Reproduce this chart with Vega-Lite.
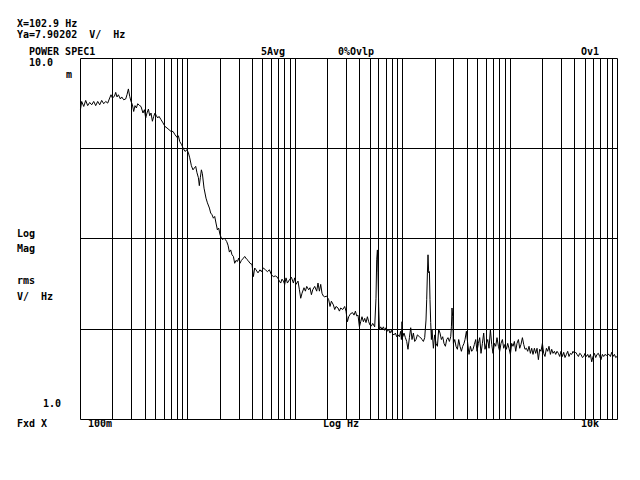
{
  "$schema": "https://vega.github.io/schema/vega-lite/v6.json",
  "width": 537,
  "height": 361,
  "autosize": {"type": "none"},
  "padding": {"left": 80, "top": 58, "right": 23, "bottom": 61},
  "background": "white",
  "config": {
    "view": {"stroke": null},
    "mark": {"color": "black"},
    "axis": {"labels": false, "ticks": false, "domain": false, "title": null, "grid": true, "gridColor": "black", "gridOpacity": 1, "gridWidth": 1},
    "text": {"font": "DejaVu Sans Mono", "fontWeight": "bold", "fontSize": 10, "color": "black", "fill": "black", "align": "left", "baseline": "alphabetic"}
  },
  "layer": [
    {
      "data": {"values": [
        {"freq":0.1009,"mag":7.19},{"freq":0.1037,"mag":7.58},{"freq":0.1083,"mag":7.34},{"freq":0.1130,"mag":7.63},{"freq":0.1179,"mag":7.38},{"freq":0.1231,"mag":7.53},{"freq":0.1285,"mag":7.42},{"freq":0.1342,"mag":7.58},{"freq":0.1400,"mag":7.38},{"freq":0.1462,"mag":7.58},{"freq":0.1526,"mag":7.42},{"freq":0.1592,"mag":7.63},{"freq":0.1662,"mag":7.47},{"freq":0.1735,"mag":7.58},{"freq":0.1811,"mag":7.50},{"freq":0.1890,"mag":7.75},{"freq":0.1944,"mag":7.91},{"freq":0.2003,"mag":7.75},{"freq":0.2091,"mag":7.83},{"freq":0.2150,"mag":8.03},{"freq":0.2211,"mag":7.80},{"freq":0.2278,"mag":7.91},{"freq":0.2378,"mag":7.70},{"freq":0.2445,"mag":7.80},{"freq":0.2552,"mag":7.66},{"freq":0.2664,"mag":7.70},{"freq":0.2739,"mag":7.91},{"freq":0.2823,"mag":8.21},{"freq":0.2903,"mag":7.83},{"freq":0.2985,"mag":7.58},{"freq":0.3076,"mag":7.42},{"freq":0.3162,"mag":7.11},{"freq":0.3252,"mag":7.38},{"freq":0.3351,"mag":7.27},{"freq":0.3445,"mag":7.47},{"freq":0.3596,"mag":7.38},{"freq":0.3698,"mag":7.34},{"freq":0.3860,"mag":7.04},{"freq":0.3978,"mag":7.19},{"freq":0.4090,"mag":6.82},{"freq":0.4206,"mag":7.04},{"freq":0.4335,"mag":7.22},{"freq":0.4457,"mag":6.92},{"freq":0.4583,"mag":7.04},{"freq":0.4722,"mag":6.68},{"freq":0.4856,"mag":6.89},{"freq":0.4993,"mag":7.04},{"freq":0.5145,"mag":6.92},{"freq":0.5290,"mag":6.82},{"freq":0.5440,"mag":6.89},{"freq":0.5678,"mag":6.75},{"freq":0.5928,"mag":6.61},{"freq":0.6188,"mag":6.46},{"freq":0.6458,"mag":6.40},{"freq":0.6742,"mag":6.33},{"freq":0.7037,"mag":6.26},{"freq":0.7345,"mag":6.26},{"freq":0.7666,"mag":6.13},{"freq":0.8002,"mag":6.03},{"freq":0.8246,"mag":6.09},{"freq":0.8479,"mag":5.87},{"freq":0.8849,"mag":5.75},{"freq":0.9100,"mag":5.63},{"freq":0.9499,"mag":5.51},{"freq":0.9915,"mag":5.57},
        {"freq":1.022,"mag":5.46},{"freq":1.051,"mag":5.29},{"freq":1.089,"mag":5.03},{"freq":1.127,"mag":4.90},{"freq":1.162,"mag":4.96},{"freq":1.195,"mag":5.01},{"freq":1.228,"mag":4.81},{"freq":1.266,"mag":4.66},{"freq":1.291,"mag":4.43},{"freq":1.319,"mag":4.66},{"freq":1.350,"mag":4.90},{"freq":1.379,"mag":4.78},{"freq":1.428,"mag":4.36},{"freq":1.490,"mag":4.09},{"freq":1.536,"mag":3.97},{"freq":1.603,"mag":3.84},{"freq":1.648,"mag":3.72},{"freq":1.695,"mag":3.68},{"freq":1.746,"mag":3.60},{"freq":1.796,"mag":3.64},{"freq":1.846,"mag":3.49},{"freq":1.903,"mag":3.34},{"freq":1.956,"mag":3.38},{"freq":2.012,"mag":3.24},{"freq":2.073,"mag":3.17},{"freq":2.131,"mag":3.14},{"freq":2.192,"mag":3.17},{"freq":2.259,"mag":3.14},{"freq":2.323,"mag":3.10},{"freq":2.388,"mag":3.03},{"freq":2.461,"mag":2.90},{"freq":2.530,"mag":2.94},{"freq":2.602,"mag":2.85},{"freq":2.681,"mag":2.82},{"freq":2.757,"mag":2.70},{"freq":2.835,"mag":2.75},{"freq":2.922,"mag":2.73},{"freq":3.004,"mag":2.79},{"freq":3.089,"mag":2.70},{"freq":3.183,"mag":2.75},{"freq":3.323,"mag":2.79},{"freq":3.417,"mag":2.82},{"freq":3.566,"mag":2.77},{"freq":3.667,"mag":2.75},{"freq":3.827,"mag":2.70},{"freq":3.995,"mag":2.68},{"freq":4.117,"mag":2.48},{"freq":4.233,"mag":2.62},{"freq":4.352,"mag":2.59},{"freq":4.543,"mag":2.54},{"freq":4.742,"mag":2.59},{"freq":4.887,"mag":2.56},{"freq":5.101,"mag":2.62},{"freq":5.325,"mag":2.59},{"freq":5.558,"mag":2.56},{"freq":5.801,"mag":2.59},{"freq":6.054,"mag":2.51},{"freq":6.321,"mag":2.48},{"freq":6.597,"mag":2.49},{"freq":6.887,"mag":2.47},{"freq":7.188,"mag":2.41},{"freq":7.391,"mag":2.38},{"freq":7.600,"mag":2.44},{"freq":7.832,"mag":2.41},{"freq":8.053,"mag":2.36},{"freq":8.281,"mag":2.46},{"freq":8.534,"mag":2.38},{"freq":8.906,"mag":2.43},{"freq":9.297,"mag":2.47},{"freq":9.705,"mag":2.38},{"freq":9.979,"mag":2.46},
        {"freq":10.26,"mag":2.36},{"freq":10.71,"mag":2.41},{"freq":11.04,"mag":2.28},{"freq":11.35,"mag":2.16},{"freq":11.67,"mag":2.23},{"freq":12.18,"mag":2.31},{"freq":12.55,"mag":2.26},{"freq":12.91,"mag":2.33},{"freq":13.47,"mag":2.28},{"freq":13.85,"mag":2.31},{"freq":14.28,"mag":2.21},{"freq":14.68,"mag":2.28},{"freq":15.32,"mag":2.33},{"freq":15.99,"mag":2.26},{"freq":16.44,"mag":2.38},{"freq":16.95,"mag":2.26},{"freq":17.43,"mag":2.36},{"freq":17.92,"mag":2.23},{"freq":18.46,"mag":2.19},{"freq":18.98,"mag":2.18},{"freq":19.82,"mag":2.19},{"freq":20.69,"mag":2.14},{"freq":21.27,"mag":2.05},{"freq":21.92,"mag":2.12},{"freq":22.88,"mag":2.07},{"freq":23.53,"mag":2.01},{"freq":24.19,"mag":2.05},{"freq":25.25,"mag":2.03},{"freq":26.02,"mag":1.99},{"freq":26.75,"mag":2.03},{"freq":27.93,"mag":2.01},{"freq":29.15,"mag":2.05},{"freq":29.98,"mag":1.99},{"freq":30.89,"mag":1.86},{"freq":31.76,"mag":1.92},{"freq":33.15,"mag":1.96},{"freq":34.60,"mag":1.97},{"freq":35.58,"mag":1.94},{"freq":36.67,"mag":1.99},{"freq":37.71,"mag":1.93},{"freq":38.77,"mag":1.94},{"freq":39.95,"mag":1.80},{"freq":41.08,"mag":1.86},{"freq":42.24,"mag":1.92},{"freq":43.52,"mag":1.86},{"freq":44.75,"mag":1.90},{"freq":46.01,"mag":1.85},{"freq":47.42,"mag":1.92},{"freq":48.76,"mag":1.86},{"freq":50.14,"mag":1.82},{"freq":51.66,"mag":1.81},{"freq":53.12,"mag":1.84},{"freq":55.45,"mag":1.80},{"freq":57.02,"mag":2.16},{"freq":57.88,"mag":2.76},{"freq":58.76,"mag":2.94},{"freq":59.52,"mag":2.54},{"freq":60.42,"mag":2.05},{"freq":61.33,"mag":1.77},{"freq":63.07,"mag":1.80},{"freq":64.85,"mag":1.77},{"freq":66.83,"mag":1.80},{"freq":68.72,"mag":1.76},{"freq":70.66,"mag":1.79},{"freq":72.81,"mag":1.75},{"freq":74.87,"mag":1.77},{"freq":76.98,"mag":1.73},{"freq":79.33,"mag":1.76},{"freq":81.57,"mag":1.72},{"freq":83.87,"mag":1.71},{"freq":86.44,"mag":1.73},{"freq":88.87,"mag":1.69},{"freq":91.40,"mag":1.71},{"freq":94.17,"mag":1.69},{"freq":96.83,"mag":1.75},{"freq":98.31,"mag":1.66},{"freq":99.56,"mag":1.86},
        {"freq":101.1,"mag":1.69},{"freq":103.9,"mag":1.73},{"freq":107.1,"mag":1.68},{"freq":110.1,"mag":1.64},{"freq":113.2,"mag":1.56},{"freq":116.7,"mag":1.68},{"freq":120.0,"mag":1.79},{"freq":123.4,"mag":1.66},{"freq":127.1,"mag":1.73},{"freq":130.7,"mag":1.64},{"freq":134.4,"mag":1.66},{"freq":138.5,"mag":1.71},{"freq":144.6,"mag":1.69},{"freq":148.7,"mag":1.68},{"freq":152.9,"mag":1.66},{"freq":157.5,"mag":1.64},{"freq":162.0,"mag":1.68},{"freq":166.6,"mag":1.88},{"freq":169.1,"mag":2.14},{"freq":171.7,"mag":2.54},{"freq":173.9,"mag":2.85},{"freq":176.5,"mag":2.54},{"freq":179.2,"mag":2.56},{"freq":181.5,"mag":2.14},{"freq":184.2,"mag":1.85},{"freq":187.0,"mag":1.66},{"freq":189.4,"mag":1.77},{"freq":195.2,"mag":1.57},{"freq":200.7,"mag":1.71},{"freq":206.4,"mag":1.62},{"freq":212.7,"mag":1.59},{"freq":218.7,"mag":1.77},{"freq":224.9,"mag":1.73},{"freq":231.7,"mag":1.66},{"freq":238.3,"mag":1.69},{"freq":245.0,"mag":1.62},{"freq":252.5,"mag":1.59},{"freq":259.6,"mag":1.66},{"freq":266.9,"mag":1.68},{"freq":275.1,"mag":1.64},{"freq":282.9,"mag":1.69},{"freq":287.2,"mag":1.80},{"freq":290.9,"mag":2.03},{"freq":295.3,"mag":1.92},{"freq":299.8,"mag":1.62},{"freq":308.3,"mag":1.66},{"freq":316.9,"mag":1.59},{"freq":326.6,"mag":1.56},{"freq":335.8,"mag":1.66},{"freq":345.3,"mag":1.59},{"freq":355.8,"mag":1.54},{"freq":365.9,"mag":1.59},{"freq":376.2,"mag":1.62},{"freq":384.4,"mag":1.66},{"freq":396.1,"mag":1.75},{"freq":407.3,"mag":1.62},{"freq":418.8,"mag":1.51},{"freq":431.5,"mag":1.59},{"freq":443.7,"mag":1.54},{"freq":456.3,"mag":1.56},{"freq":470.2,"mag":1.61},{"freq":483.5,"mag":1.66},{"freq":497.2,"mag":1.54},{"freq":512.3,"mag":1.62},{"freq":526.8,"mag":1.68},{"freq":541.7,"mag":1.52},{"freq":558.1,"mag":1.62},{"freq":573.9,"mag":1.73},{"freq":590.1,"mag":1.56},{"freq":608.1,"mag":1.62},{"freq":625.3,"mag":1.66},{"freq":643.0,"mag":1.57},{"freq":662.6,"mag":1.77},{"freq":681.3,"mag":1.61},{"freq":700.6,"mag":1.52},{"freq":722.0,"mag":1.62},{"freq":742.4,"mag":1.59},{"freq":763.4,"mag":1.68},{"freq":786.6,"mag":1.59},{"freq":808.8,"mag":1.54},{"freq":831.7,"mag":1.62},{"freq":857.1,"mag":1.66},{"freq":881.3,"mag":1.57},{"freq":906.2,"mag":1.61},{"freq":933.7,"mag":1.56},{"freq":960.1,"mag":1.62},{"freq":987.2,"mag":1.57},
        {"freq":1017,"mag":1.51},{"freq":1046,"mag":1.62},{"freq":1076,"mag":1.59},{"freq":1108,"mag":1.64},{"freq":1140,"mag":1.54},{"freq":1172,"mag":1.62},{"freq":1208,"mag":1.66},{"freq":1242,"mag":1.57},{"freq":1277,"mag":1.61},{"freq":1316,"mag":1.68},{"freq":1353,"mag":1.61},{"freq":1391,"mag":1.56},{"freq":1434,"mag":1.57},{"freq":1474,"mag":1.54},{"freq":1516,"mag":1.59},{"freq":1562,"mag":1.52},{"freq":1606,"mag":1.57},{"freq":1652,"mag":1.51},{"freq":1702,"mag":1.57},{"freq":1750,"mag":1.52},{"freq":1800,"mag":1.57},{"freq":1854,"mag":1.46},{"freq":1906,"mag":1.56},{"freq":1960,"mag":1.54},{"freq":2020,"mag":1.62},{"freq":2077,"mag":1.52},{"freq":2136,"mag":1.49},{"freq":2201,"mag":1.57},{"freq":2263,"mag":1.54},{"freq":2327,"mag":1.59},{"freq":2399,"mag":1.51},{"freq":2466,"mag":1.56},{"freq":2536,"mag":1.52},{"freq":2613,"mag":1.54},{"freq":2687,"mag":1.51},{"freq":2763,"mag":1.54},{"freq":2847,"mag":1.52},{"freq":2928,"mag":1.49},{"freq":3010,"mag":1.54},{"freq":3102,"mag":1.49},{"freq":3189,"mag":1.53},{"freq":3279,"mag":1.48},{"freq":3380,"mag":1.51},{"freq":3475,"mag":1.54},{"freq":3573,"mag":1.49},{"freq":3683,"mag":1.52},{"freq":3787,"mag":1.51},{"freq":3894,"mag":1.54},{"freq":4013,"mag":1.52},{"freq":4126,"mag":1.53},{"freq":4243,"mag":1.51},{"freq":4372,"mag":1.49},{"freq":4496,"mag":1.52},{"freq":4622,"mag":1.51},{"freq":4763,"mag":1.48},{"freq":4897,"mag":1.49},{"freq":5035,"mag":1.52},{"freq":5190,"mag":1.49},{"freq":5336,"mag":1.51},{"freq":5487,"mag":1.48},{"freq":5654,"mag":1.51},{"freq":5814,"mag":1.44},{"freq":5978,"mag":1.49},{"freq":6161,"mag":1.52},{"freq":6335,"mag":1.48},{"freq":6514,"mag":1.51},{"freq":6712,"mag":1.52},{"freq":6902,"mag":1.49},{"freq":7096,"mag":1.46},{"freq":7313,"mag":1.51},{"freq":7519,"mag":1.49},{"freq":7731,"mag":1.51},{"freq":7966,"mag":1.50},{"freq":8191,"mag":1.51},{"freq":8422,"mag":1.51},{"freq":8679,"mag":1.49},{"freq":8925,"mag":1.53},{"freq":9180,"mag":1.49},{"freq":9458,"mag":1.51},{"freq":9725,"mag":1.48},{"freq":10000,"mag":1.49}
      ]},
      "mark": {"type": "line", "color": "black", "strokeWidth": 1},
      "encoding": {
        "x": {"field": "freq", "type": "quantitative",
              "scale": {"type": "log", "domain": [0.1, 10000], "nice": false},
              "axis": {"values": [0.1,0.2,0.3,0.4,0.5,0.6,0.7,0.8,0.9,1,2,3,4,5,6,7,8,9,10,20,30,40,50,60,70,80,90,100,200,300,400,500,600,700,800,900,1000,2000,3000,4000,5000,6000,7000,8000,9000,10000]}},
        "y": {"field": "mag", "type": "quantitative",
              "scale": {"type": "log", "domain": [1, 10], "nice": false, "zero": false},
              "axis": {"values": [1, 1.7783, 3.1623, 5.6234, 10]}}
      }
    },
    {"data": {"values": [{}]}, "mark": {"type": "text", "text": "X=102.9 Hz", "dx": -63, "dy": -31},
     "encoding": {"x": {"datum": 0.1, "type": "quantitative"}, "y": {"datum": 10, "type": "quantitative"}}},
    {"data": {"values": [{}]}, "mark": {"type": "text", "text": "Ya=7.90202\u00a0\u00a0V/\u00a0\u00a0Hz", "dx": -63, "dy": -20},
     "encoding": {"x": {"datum": 0.1, "type": "quantitative"}, "y": {"datum": 10, "type": "quantitative"}}},
    {"data": {"values": [{}]}, "mark": {"type": "text", "text": "POWER SPEC1", "dx": -51, "dy": -3},
     "encoding": {"x": {"datum": 0.1, "type": "quantitative"}, "y": {"datum": 10, "type": "quantitative"}}},
    {"data": {"values": [{}]}, "mark": {"type": "text", "text": "5Avg", "dx": 181, "dy": -3},
     "encoding": {"x": {"datum": 0.1, "type": "quantitative"}, "y": {"datum": 10, "type": "quantitative"}}},
    {"data": {"values": [{}]}, "mark": {"type": "text", "text": "0%Ovlp", "dx": 258, "dy": -3},
     "encoding": {"x": {"datum": 0.1, "type": "quantitative"}, "y": {"datum": 10, "type": "quantitative"}}},
    {"data": {"values": [{}]}, "mark": {"type": "text", "text": "Ov1", "dx": 501, "dy": -3},
     "encoding": {"x": {"datum": 0.1, "type": "quantitative"}, "y": {"datum": 10, "type": "quantitative"}}},
    {"data": {"values": [{}]}, "mark": {"type": "text", "text": "10.0", "dx": -51, "dy": 8},
     "encoding": {"x": {"datum": 0.1, "type": "quantitative"}, "y": {"datum": 10, "type": "quantitative"}}},
    {"data": {"values": [{}]}, "mark": {"type": "text", "text": "m", "color": "black", "dx": -14, "dy": 20},
     "encoding": {"x": {"datum": 0.1, "type": "quantitative"}, "y": {"datum": 10, "type": "quantitative"}}},
    {"data": {"values": [{}]}, "mark": {"type": "text", "text": "Log", "dx": -63, "dy": 179},
     "encoding": {"x": {"datum": 0.1, "type": "quantitative"}, "y": {"datum": 10, "type": "quantitative"}}},
    {"data": {"values": [{}]}, "mark": {"type": "text", "text": "Mag", "dx": -63, "dy": 194},
     "encoding": {"x": {"datum": 0.1, "type": "quantitative"}, "y": {"datum": 10, "type": "quantitative"}}},
    {"data": {"values": [{}]}, "mark": {"type": "text", "text": "rms", "dx": -63, "dy": 226},
     "encoding": {"x": {"datum": 0.1, "type": "quantitative"}, "y": {"datum": 10, "type": "quantitative"}}},
    {"data": {"values": [{}]}, "mark": {"type": "text", "text": "V/\u00a0\u00a0Hz", "dx": -63, "dy": 242},
     "encoding": {"x": {"datum": 0.1, "type": "quantitative"}, "y": {"datum": 10, "type": "quantitative"}}},
    {"data": {"values": [{}]}, "mark": {"type": "text", "text": "1.0", "dx": -37, "dy": -12},
     "encoding": {"x": {"datum": 0.1, "type": "quantitative"}, "y": {"datum": 1, "type": "quantitative"}}},
    {"data": {"values": [{}]}, "mark": {"type": "text", "text": "Fxd X", "dx": -63, "dy": 8},
     "encoding": {"x": {"datum": 0.1, "type": "quantitative"}, "y": {"datum": 1, "type": "quantitative"}}},
    {"data": {"values": [{}]}, "mark": {"type": "text", "text": "100m", "color": "black", "dx": 8, "dy": 8},
     "encoding": {"x": {"datum": 0.1, "type": "quantitative"}, "y": {"datum": 1, "type": "quantitative"}}},
    {"data": {"values": [{}]}, "mark": {"type": "text", "text": "Log Hz", "dx": 243, "dy": 8},
     "encoding": {"x": {"datum": 0.1, "type": "quantitative"}, "y": {"datum": 1, "type": "quantitative"}}},
    {"data": {"values": [{}]}, "mark": {"type": "text", "text": "10k", "dx": 501, "dy": 8},
     "encoding": {"x": {"datum": 0.1, "type": "quantitative"}, "y": {"datum": 1, "type": "quantitative"}}}
  ]
}
